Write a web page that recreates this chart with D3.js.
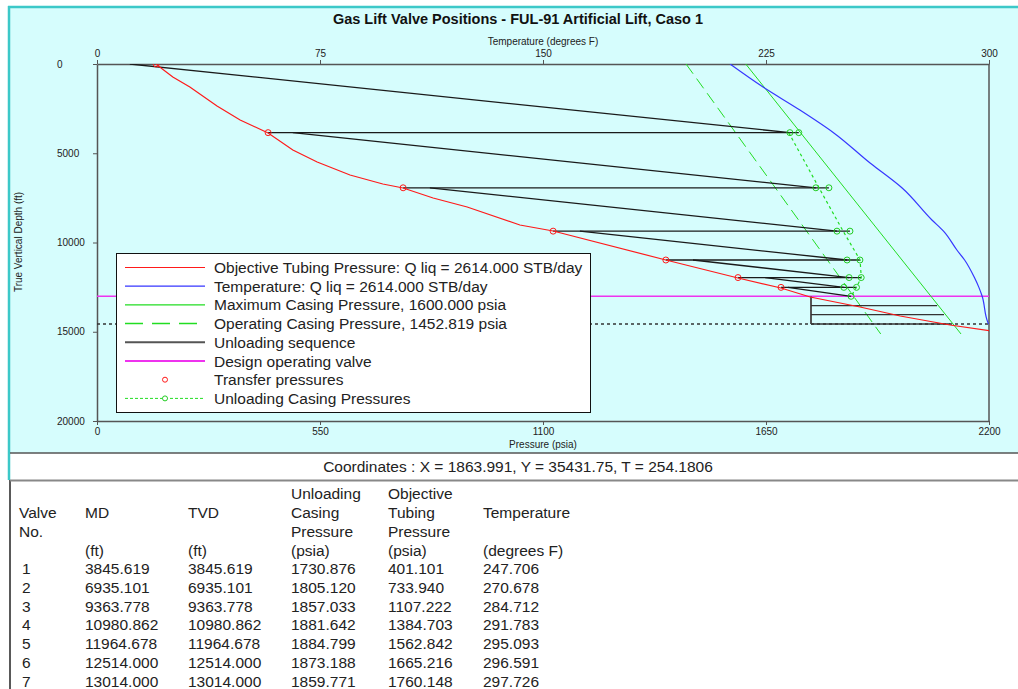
<!DOCTYPE html>
<meta charset="utf-8">
<style>
  body { margin: 0; background: #fff; }
  svg { display: block; font-family: "Liberation Sans", Arial, sans-serif; }
  .axis text { font-size: 10px; fill: #222; }
  .axis path, .axis line { stroke: #555; }
  .unload { stroke: #1a1a1a; stroke-width: 1.3; fill: none; }
  .tbl { font-size: 15.5px; fill: #222; }
</style>
<body>
<script src="https://d3js.org/d3.v7.min.js"></script>
<script>
// tick values
var pTicks = [0, 550, 1100, 1650, 2200];
var tTicks = [0, 75, 150, 225, 300];
var dTicks = [0, 5000, 10000, 15000, 20000];

// valve table
var valveNo = [1, 2, 3, 4, 5, 6, 7];
var valveMD = ["3845.619", "6935.101", "9363.778", "10980.862", "11964.678", "12514.000", "13014.000"];
var valveTVD = [3845.619, 6935.101, 9363.778, 10980.862, 11964.678, 12514.000, 13014.000];
var unloadCasingP = [1730.876, 1805.120, 1857.033, 1881.642, 1884.799, 1873.188, 1859.771];
var objTubingP = [401.101, 733.940, 1107.222, 1384.703, 1562.842, 1665.216, 1760.148];
var valveTemp = [247.706, 270.678, 284.712, 291.783, 295.093, 296.591, 297.726];

// curves: [pressure or temp, depth]
var tubingCurve = [[145,0],[187,728],[229,1289],[296,2353],[353,3137],[422,3866],[483,4818],[543,5490],
  [624,6218],[705,6723],[755,6947],[829,7507],[913,8011],[1043,9020],[1125,9356],[1403,10980],
  [1581,11989],[1687,12549],[1759,13053],[1882,13613],[1981,14118],[2104,14622],[2230,15040]];
var tempCurve = [[212.9,0],[224.0,1289],[236.4,2577],[247.7,3846],[260.0,5546],[270.7,6935],[280.8,8739],
  [284.7,9364],[289.2,10420],[291.8,10981],[295.1,11965],[296.6,12514],[297.7,13014],[299.7,14510],[300,14566]];
var maxCasing = [[1600,0],[2131,15126]];
var opCasing = [[1452.819,0],[1933,15126]];

// transfer pressures (red circles), surface + valves 1..6
var transferP = [146, 422, 755, 1125, 1403, 1581, 1687];
var transferD = [0, 3845.619, 6935.101, 9363.778, 10980.862, 11964.678, 12514.000];

// unloading sequence: slope from start (at previous valve) to end (at valve)
var slopeStartP = [81, 483, 821, 1191, 1470, 1648, 1704];
var slopeEndP = [1709, 1773, 1825, 1850, 1855, 1842, 1860];

// dotted unloading casing pressure line
var unloadLine = [[1706,3846],[1781,6947],[1840,9356],[1882,10981],[1885,11965],[1873,12514],[1860,13014]];

// dummy valves below operating valve
var dummyD = [13540, 14040, 14566];
var dummyEndP = [2072, 2089, 2104];
var dummyStartP = 1761;
var bottomDepth = 14566;

var legendLabels = [
  "Objective Tubing Pressure: Q liq = 2614.000 STB/day",
  "Temperature: Q liq = 2614.000 STB/day",
  "Maximum Casing Pressure, 1600.000 psia",
  "Operating Casing Pressure, 1452.819 psia",
  "Unloading sequence",
  "Design operating valve",
  "Transfer pressures",
  "Unloading Casing Pressures"
];

var tableHead = [
  ["", "", "", "Unloading", "Objective", ""],
  ["Valve", "MD", "TVD", "Casing", "Tubing", "Temperature"],
  ["No.", "", "", "Pressure", "Pressure", ""],
  ["", "(ft)", "(ft)", "(psia)", "(psia)", "(degrees F)"]
];
var colX = [19, 85, 188, 291, 388, 483];

var W = 1018, H = 689;
var svg = d3.select("body").append("svg").attr("width", W).attr("height", H);

// panel background
svg.append("rect").attr("x", 9).attr("y", 7).attr("width", W - 9).attr("height", 446).attr("fill", "#d6fdfd");
svg.append("line").attr("x1", 8).attr("x2", W).attr("y1", 7).attr("y2", 7).attr("stroke", "#3cc8c8").attr("stroke-width", 2.5);
svg.append("line").attr("x1", 9).attr("x2", 9).attr("y1", 6).attr("y2", 480).attr("stroke", "#3cc8c8").attr("stroke-width", 2.5);
svg.append("line").attr("x1", 10).attr("x2", 10).attr("y1", 480).attr("y2", H).attr("stroke", "#222").attr("stroke-width", 1.5);
svg.append("line").attr("x1", 10).attr("x2", W).attr("y1", 453).attr("y2", 453).attr("stroke", "#555").attr("stroke-width", 1.5);
svg.append("line").attr("x1", 10).attr("x2", W).attr("y1", 480.5).attr("y2", 480.5).attr("stroke", "#888").attr("stroke-width", 2);

var x = d3.scaleLinear().domain([0, 2200]).range([97, 989]);
var t = d3.scaleLinear().domain([0, 300]).range([97, 989]);
var y = d3.scaleLinear().domain([0, 20000]).range([64, 421]);

svg.append("text").attr("x", 518).attr("y", 24).attr("text-anchor", "middle")
  .style("font-size", "14.5px").style("font-weight", "bold").attr("fill", "#111")
  .text("Gas Lift Valve Positions - FUL-91 Artificial Lift, Caso 1");

svg.append("text").attr("x", 543).attr("y", 45).attr("text-anchor", "middle")
  .style("font-size", "10px").attr("fill", "#222").text("Temperature (degrees F)");
svg.append("text").attr("x", 543).attr("y", 448).attr("text-anchor", "middle")
  .style("font-size", "10px").attr("fill", "#222").text("Pressure (psia)");
svg.append("text").attr("transform", "translate(22,242) rotate(-90)").attr("text-anchor", "middle")
  .style("font-size", "10px").attr("fill", "#222").text("True Vertical Depth (ft)");

// axes
svg.append("g").attr("class", "axis").attr("transform", "translate(0,421)")
  .call(d3.axisBottom(x).tickValues(pTicks).tickSize(4).tickSizeOuter(0).tickFormat(d3.format("d")));
svg.append("g").attr("class", "axis").attr("transform", "translate(0,64)")
  .call(d3.axisTop(t).tickValues(tTicks).tickSize(4).tickSizeOuter(0).tickFormat(d3.format("d")));
var ya = svg.append("g").attr("class", "axis").attr("transform", "translate(97,0)")
  .call(d3.axisLeft(y).tickValues(dTicks).tickSize(4).tickSizeOuter(0).tickFormat(d3.format("d")));
ya.selectAll("text").attr("x", -40).attr("text-anchor", "start");
svg.selectAll(".axis path").attr("stroke-width", 1.5);
svg.append("line").attr("x1", 989).attr("x2", 989).attr("y1", 64).attr("y2", 421).attr("stroke", "#555").attr("stroke-width", 1.5);

svg.append("clipPath").attr("id", "plotclip").append("rect")
  .attr("x", 97).attr("y", 64).attr("width", 892).attr("height", 357);
var plot = svg.append("g").attr("clip-path", "url(#plotclip)");

var pline = d3.line().x(function(d) { return x(d[0]); }).y(function(d) { return y(d[1]); });
var tline = d3.line().x(function(d) { return t(d[0]); }).y(function(d) { return y(d[1]); }).curve(d3.curveMonotoneY);

// design operating valve and bottom dotted line
plot.append("line").attr("x1", x(0)).attr("x2", x(2200)).attr("y1", y(valveTVD[6])).attr("y2", y(valveTVD[6]))
  .attr("stroke", "#ee33ee").attr("stroke-width", 1.5);
plot.append("line").attr("x1", x(0)).attr("x2", x(2200)).attr("y1", y(bottomDepth)).attr("y2", y(bottomDepth))
  .attr("stroke", "#333").attr("stroke-width", 1.5).attr("stroke-dasharray", "3,3");

// casing pressure lines
plot.append("path").attr("d", pline(maxCasing)).attr("stroke", "#22dd22").attr("fill", "none");
plot.append("path").attr("d", pline(opCasing)).attr("stroke", "#22dd22").attr("fill", "none").attr("stroke-dasharray", "12,6");

// unloading sequence
var prevD = [0].concat(valveTVD.slice(0, 6));
valveTVD.forEach(function(d, i) {
  plot.append("line").attr("class", "unload")
    .attr("x1", x(slopeStartP[i])).attr("y1", y(prevD[i]))
    .attr("x2", x(slopeEndP[i])).attr("y2", y(d));
  if (i < 6) {
    plot.append("line").attr("class", "unload")
      .attr("x1", x(transferP[i + 1])).attr("y1", y(d))
      .attr("x2", x(unloadCasingP[i])).attr("y2", y(d));
  }
});
plot.append("line").attr("stroke", "#555").attr("stroke-width", 2)
  .attr("x1", x(dummyStartP)).attr("x2", x(dummyStartP)).attr("y1", y(valveTVD[6])).attr("y2", y(bottomDepth));
dummyD.forEach(function(d, i) {
  plot.append("line").attr("stroke", "#333").attr("stroke-width", 1.3)
    .attr("x1", x(dummyStartP)).attr("x2", x(dummyEndP[i])).attr("y1", y(d)).attr("y2", y(d));
});

// unloading casing pressure dotted line and circles
plot.append("path").attr("d", pline(unloadLine)).attr("stroke", "#22dd22").attr("fill", "none")
  .attr("stroke-width", 1.2).attr("stroke-dasharray", "3,3");
plot.selectAll(".lc").data(slopeEndP.slice(0, 6)).enter().append("circle")
  .attr("cx", function(d) { return x(d); }).attr("cy", function(d, i) { return y(valveTVD[i]); })
  .attr("r", 3).attr("fill", "none").attr("stroke", "#22cc22");
plot.selectAll(".uc").data(unloadCasingP).enter().append("circle")
  .attr("cx", function(d) { return x(d); }).attr("cy", function(d, i) { return y(valveTVD[i]); })
  .attr("r", 3).attr("fill", "none").attr("stroke", "#22cc22");

// temperature and tubing curves
plot.append("path").attr("d", tline(tempCurve)).attr("stroke", "#3636ff").attr("stroke-width", 1.2).attr("fill", "none");
plot.append("path").attr("d", pline(tubingCurve)).attr("stroke", "#ff1a1a").attr("stroke-width", 1.2).attr("fill", "none");
plot.selectAll(".tp").data(transferP).enter().append("circle")
  .attr("cx", function(d) { return x(d); }).attr("cy", function(d, i) { return y(transferD[i]); })
  .attr("r", 3).attr("fill", "none").attr("stroke", "#ff1a1a");

// legend
var lg = svg.append("g").attr("transform", "translate(116,253)");
lg.append("rect").attr("x", 0.5).attr("y", 0.5).attr("width", 474).attr("height", 159)
  .attr("fill", "#fff").attr("stroke", "#111");
var legendStyle = [
  {c: "#ff1a1a", w: 1.2, dash: null},
  {c: "#3636ff", w: 1.2, dash: null},
  {c: "#22dd22", w: 1.2, dash: null},
  {c: "#22dd22", w: 1.5, dash: "18,9"},
  {c: "#555", w: 2, dash: null},
  {c: "#ee33ee", w: 2, dash: null},
  {c: null, w: 0, dash: null, mark: "#ff1a1a"},
  {c: "#22dd22", w: 1, dash: "3,2", mark: "#22cc22"}
];
legendLabels.forEach(function(lab, i) {
  var yy = 14.5 + i * 18.7;
  var s = legendStyle[i];
  if (s.c) {
    lg.append("line").attr("x1", 9).attr("x2", 89).attr("y1", yy).attr("y2", yy)
      .attr("stroke", s.c).attr("stroke-width", s.w).attr("stroke-dasharray", s.dash);
  }
  if (s.mark) {
    lg.append("circle").attr("cx", 49).attr("cy", yy).attr("r", 2.5).attr("fill", "#fff").attr("stroke", s.mark);
  }
  lg.append("text").attr("x", 98).attr("y", yy + 5.5).style("font-size", "15.5px").attr("fill", "#222").text(lab);
});

// coordinates row
svg.append("text").attr("class", "tbl").attr("x", 518).attr("y", 472).attr("text-anchor", "middle")
  .text("Coordinates :  X = 1863.991, Y = 35431.75,  T = 254.1806");

// table
tableHead.forEach(function(row, r) {
  row.forEach(function(cell, c) {
    if (cell) svg.append("text").attr("class", "tbl").attr("x", colX[c]).attr("y", 499 + r * 19).text(cell);
  });
});
valveNo.forEach(function(v, i) {
  var yy = 574 + i * 18.8;
  var cells = [v, valveMD[i], valveTVD[i].toFixed(3), unloadCasingP[i].toFixed(3), objTubingP[i].toFixed(3), valveTemp[i].toFixed(3)];
  cells.forEach(function(cell, c) {
    svg.append("text").attr("class", "tbl").attr("x", c === 0 ? 22 : colX[c]).attr("y", yy).text(cell);
  });
});
</script>
</body>
